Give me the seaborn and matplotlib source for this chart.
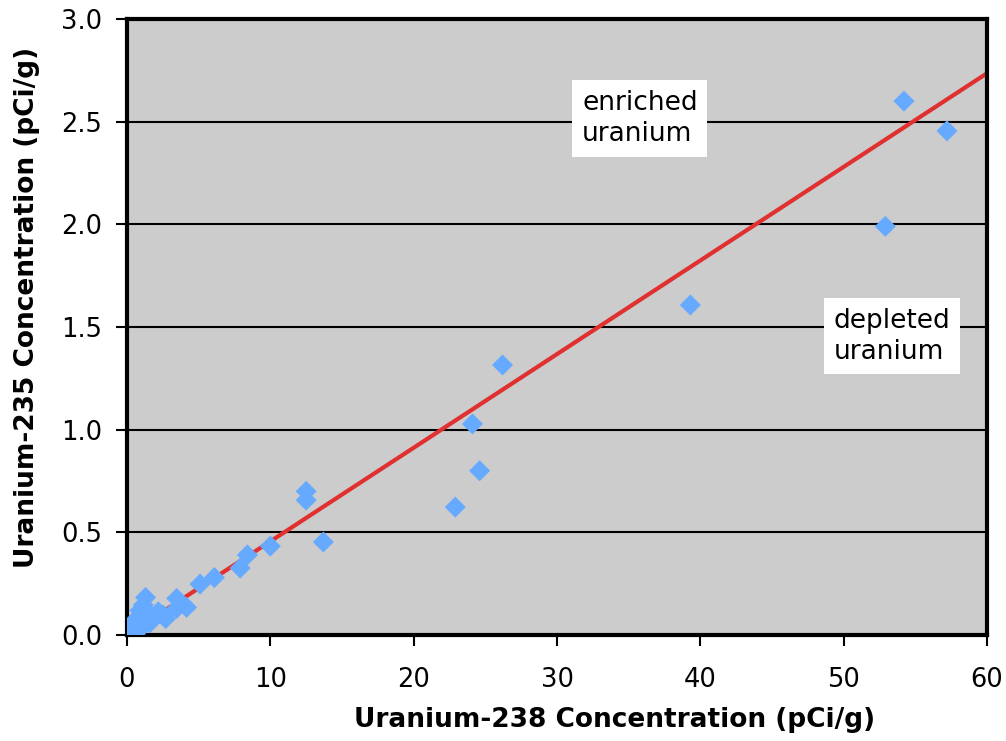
import numpy as np
import pandas as pd
import matplotlib
matplotlib.use("Agg")
import matplotlib.pyplot as plt
import seaborn as sns

# U-238 / U-235 concentrations (pCi/g)
u238 = [54.2, 57.2, 52.9, 39.3, 26.2, 24.1, 24.6, 22.9, 12.5, 12.5, 13.7,
        10.0, 8.4, 7.9, 6.1, 5.1, 3.47, 4.16, 3.47, 2.53, 2.19, 1.3, 1.14,
        0.9, 0.3, 0.5, 0.6, 0.7, 0.8, 0.9, 1.0, 1.1, 1.2, 1.4, 1.5, 1.7,
        1.6, 0.4, 1.0, 2.7]
u235 = [2.60, 2.455, 1.99, 1.607, 1.315, 1.028, 0.80, 0.623, 0.70, 0.657,
        0.453, 0.433, 0.39, 0.326, 0.28, 0.248, 0.178, 0.135, 0.13, 0.097,
        0.113, 0.183, 0.146, 0.12, 0.03, 0.04, 0.02, 0.05, 0.03, 0.06, 0.04,
        0.08, 0.05, 0.07, 0.10, 0.09, 0.06, 0.06, 0.10, 0.08]

# natural-uranium activity ratio line
natural_ratio = 0.0456
line_x = [0, 60]

df = pd.DataFrame({"u238": u238, "u235": u235})
line_df = pd.DataFrame({"x": line_x})
line_df["y"] = line_df["x"] * natural_ratio

sns.set_style("white", {"axes.facecolor": "#cccccc"})
plt.rcParams["font.family"] = ["DejaVu Sans"]
plt.rcParams["text.color"] = "black"

fig = plt.figure(figsize=(10.06, 7.41), dpi=100)
ax = fig.add_axes([0.1262, 0.143, 0.855, 0.8314])

ax.set_axisbelow(True)
ax.yaxis.grid(True, color="black", linewidth=1.5)

sns.lineplot(data=line_df, x="x", y="y", ax=ax, color="#e03030",
             linewidth=3, zorder=2)
sns.scatterplot(data=df, x="u238", y="u235", ax=ax, marker="D", s=115,
                color="#66aaff", edgecolor="none", zorder=3)

ax.set_xlim(0, 60)
ax.set_ylim(0, 3.0)
ax.set_xticks(range(0, 61, 10))
ax.set_yticks(np.arange(0, 3.01, 0.5))
ax.set_yticklabels([f"{v:.1f}" for v in np.arange(0, 3.01, 0.5)])

for side in ["left", "bottom", "right", "top"]:
    ax.spines[side].set_color("black")
    ax.spines[side].set_linewidth(3)

ax.tick_params(axis="both", direction="out", length=8, width=1.5,
               labelsize=18.5, colors="black")
ax.tick_params(axis="x", pad=15)
ax.tick_params(axis="y", pad=10)
ax.tick_params(left=True, bottom=True)

ax.set_xlabel("Uranium-238 Concentration (pCi/g)", fontsize=19,
              fontweight="bold", color="black")
ax.set_ylabel("Uranium-235 Concentration (pCi/g)", fontsize=19,
              fontweight="bold", color="black")
ax.xaxis.set_label_coords(0.567, -0.117)
ax.yaxis.set_label_coords(-0.101, 0.531)

box = dict(facecolor="white", edgecolor="none", pad=7)
ax.text(31.75, 2.515, "enriched\nuranium", fontsize=19, ha="left",
        va="center", bbox=box, linespacing=1.25, zorder=4)
ax.text(49.3, 1.456, "depleted\nuranium", fontsize=19, ha="left",
        va="center", bbox=box, linespacing=1.25, zorder=4)

plt.savefig("out.png", dpi=100)
